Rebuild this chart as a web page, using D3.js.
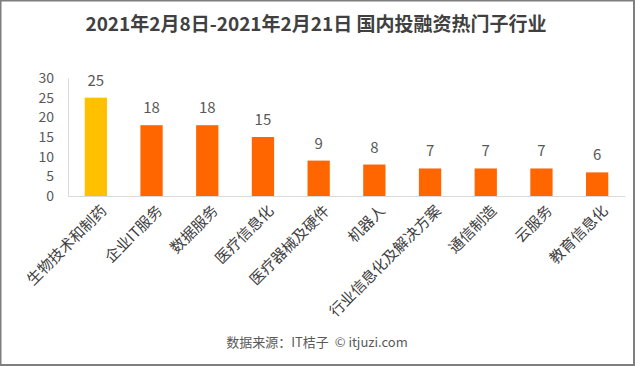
<!DOCTYPE html>
<html><head><meta charset="utf-8">
<script src="https://cdn.jsdelivr.net/npm/d3@7"></script>
<style>html,body{margin:0;padding:0;background:#fff;}svg{display:block;}</style>
</head><body>
<script>
const title = "2021年2月8日-2021年2月21日 国内投融资热门子行业";
const categories = ["生物技术和制药","企业IT服务","数据服务","医疗信息化","医疗器械及硬件","机器人","行业信息化及解决方案","通信制造","云服务","教育信息化"];
const values = [25,18,18,15,9,8,7,7,7,6];
const barColors = ["#FFC000","#FF6600","#FF6600","#FF6600","#FF6600","#FF6600","#FF6600","#FF6600","#FF6600","#FF6600"];
const yTicks = [0,5,10,15,20,25,30];
const source = "数据来源：IT桔子  © itjuzi.com";

const W = 635, H = 366;
const font = "'Microsoft YaHei','Noto Sans CJK SC','Noto Sans',sans-serif";
const svg = d3.select("body").append("svg").attr("width", W).attr("height", H);
svg.append("rect").attr("x",0.5).attr("y",0.5).attr("width",W-1.5).attr("height",H-1.5)
  .attr("fill","#fff").attr("stroke","#7f7f7f").attr("stroke-width",2);

const m = {left:68, right:625, top:78, bottom:196};
const x = d3.scaleBand().domain(categories).range([m.left, m.right]).paddingInner(0.6).paddingOuter(0.3);
const y = d3.scaleLinear().domain([0,30]).range([m.bottom, m.top]);

svg.append("text").attr("x", 316).attr("y", 31).attr("text-anchor","middle")
  .attr("font-family", font).attr("font-weight","bold").attr("font-size", 19).attr("fill","#404040").text(title);

// y axis labels
const ya = svg.append("g").attr("transform",`translate(${m.left},0)`)
  .call(d3.axisLeft(y).tickValues(yTicks).tickSize(0).tickPadding(14));
ya.select(".domain").attr("stroke","#d9d9d9");
ya.selectAll("text").attr("font-family", font).attr("font-size", 14).attr("fill","#595959");

// bars
svg.selectAll("rect.bar").data(values).enter().append("rect").attr("class","bar")
  .attr("x",(d,i)=>x(categories[i])).attr("width",x.bandwidth())
  .attr("y",d=>y(d)).attr("height",d=>y(0)-y(d)).attr("fill",(d,i)=>barColors[i]);

// baseline
const xa = svg.append("g").attr("transform",`translate(0,${m.bottom})`)
  .call(d3.axisBottom(x).tickSize(0).tickSizeOuter(0).tickFormat(""));
xa.select(".domain").attr("stroke","#d9d9d9");

// value labels
svg.selectAll("text.val").data(values).enter().append("text").attr("class","val")
  .attr("x",(d,i)=>x(categories[i])+x.bandwidth()/2).attr("y",d=>y(d)-12)
  .attr("text-anchor","middle").attr("font-family",font).attr("font-size",15).attr("fill","#595959")
  .text(d=>d);

// category labels rotated
svg.selectAll("text.cat").data(categories).enter().append("text").attr("class","cat")
  .attr("transform",d=>`translate(${x(d)+x.bandwidth()/2+8},${m.bottom+12}) rotate(-45)`)
  .attr("text-anchor","end").attr("dy","0.35em").attr("font-family",font).attr("font-size",15).attr("fill","#404040")
  .text(d=>d);

svg.append("text").attr("x",317).attr("y",347).attr("text-anchor","middle")
  .attr("font-family",font).attr("font-size",13).attr("fill","#595959").attr("xml:space","preserve").text(source);
</script>
</body></html>
